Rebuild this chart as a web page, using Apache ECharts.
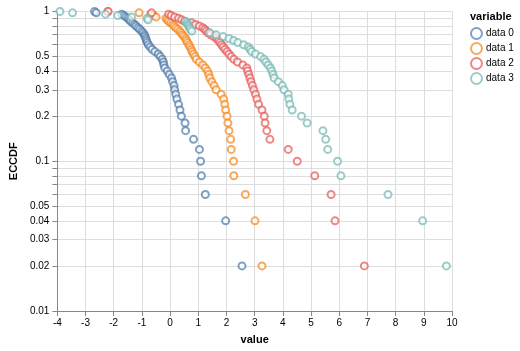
<!DOCTYPE html>
<html>
<head>
<meta charset="utf-8">
<script src="https://cdn.jsdelivr.net/npm/echarts@6/dist/echarts.min.js"></script>
<style>
  html, body { margin: 0; padding: 0; background: #fff; }
  #chart { width: 520px; height: 351px; }
</style>
</head>
<body>
<div id="chart"></div>
<script>
// sorted values per variable
const data0 = [-2.68, -2.62, -1.72, -1.64, -1.57, -1.50, -1.45, -1.40, -1.33, -1.26,
  -1.21, -1.14, -1.08, -1.01, -0.96, -0.91, -0.89, -0.86, -0.84, -0.81,
  -0.77, -0.71, -0.64, -0.54, -0.42, -0.35, -0.28, -0.24, -0.22, -0.19,
  -0.10, -0.03, 0.05, 0.09, 0.14, 0.16, 0.20, 0.24, 0.30, 0.35,
  0.40, 0.53, 0.55, 0.83, 1.04, 1.08, 1.11, 1.25, 1.97, 2.55]
const data1 = [-2.21, -1.10, -0.69, -0.58, -0.50, -0.15, -0.10, -0.05, 0.02, 0.09,
  0.14, 0.20, 0.27, 0.34, 0.39, 0.44, 0.49, 0.55, 0.58, 0.62,
  0.67, 0.70, 0.75, 0.78, 0.83, 0.88, 0.93, 1.04, 1.16, 1.25,
  1.33, 1.37, 1.41, 1.48, 1.56, 1.63, 1.81, 1.90, 1.94, 1.97,
  2.02, 2.05, 2.09, 2.15, 2.17, 2.25, 2.26, 2.67, 3.01, 3.26]
const data2 = [-2.20, -0.66, -0.05, 0.04, 0.16, 0.30, 0.41, 0.51, 0.77, 0.90,
  1.04, 1.16, 1.23, 1.28, 1.35, 1.44, 1.55, 1.65, 1.72, 1.77,
  1.83, 1.88, 1.95, 2.02, 2.09, 2.17, 2.26, 2.39, 2.58, 2.72,
  2.75, 2.79, 2.83, 2.87, 2.92, 2.97, 3.03, 3.08, 3.14, 3.26,
  3.34, 3.37, 3.43, 3.54, 4.19, 4.51, 5.13, 5.71, 5.85, 6.89]
const data3 = [-3.91, -3.46, -2.29, -1.86, -1.37, -0.82, -0.78, 0.55, 0.60, 0.63,
  0.66, 0.69, 0.72, 0.77, 1.41, 1.63, 1.88, 2.09, 2.25, 2.40,
  2.61, 2.77, 2.84, 2.89, 3.03, 3.21, 3.33, 3.40, 3.48, 3.56,
  3.61, 3.65, 3.69, 3.84, 3.98, 4.04, 4.19, 4.21, 4.25, 4.33,
  4.66, 4.86, 5.42, 5.52, 5.59, 5.94, 6.06, 7.73, 8.96, 9.80]

// ECCDF level for each sorted position
const eccdf = [1, 0.98, 0.96, 0.94, 0.92, 0.9, 0.88, 0.86, 0.84, 0.82,
  0.8, 0.78, 0.76, 0.74, 0.72, 0.7, 0.68, 0.66, 0.64, 0.62,
  0.6, 0.58, 0.56, 0.54, 0.52, 0.5, 0.48, 0.46, 0.44, 0.42,
  0.4, 0.38, 0.36, 0.34, 0.32, 0.3, 0.28, 0.26, 0.24, 0.22,
  0.2, 0.18, 0.16, 0.14, 0.12, 0.1, 0.08, 0.06, 0.04, 0.02]

const seriesNames = ['data 0', 'data 1', 'data 2', 'data 3']
const seriesValues = [data0, data1, data2, data3]
const colors = ['#4c78a8', '#f58518', '#e45756', '#72b7b2']

const yTicks = [0.01, 0.02, 0.03, 0.04, 0.05, 0.06, 0.07, 0.08, 0.09,
  0.1, 0.2, 0.3, 0.4, 0.5, 0.6, 0.7, 0.8, 0.9, 1]
const yLabels = [0.01, 0.02, 0.03, 0.04, 0.05, 0.1, 0.2, 0.3, 0.4, 0.5, 1]

const font = "'Liberation Sans', Arial, sans-serif"
const chart = echarts.init(document.getElementById('chart'))

const option = {
  animation: false,
  color: colors,
  textStyle: { fontFamily: font },
  title: {
    text: 'variable',
    left: 465,
    top: 6,
    textStyle: { fontSize: 11, fontWeight: 'bold', color: '#000', fontFamily: font }
  },
  legend: {
    orient: 'vertical',
    left: 465,
    top: 22,
    itemWidth: 11,
    itemHeight: 11,
    itemGap: 2,
    icon: 'emptyCircle',
    data: seriesNames,
    textStyle: { fontSize: 10, color: '#000', lineHeight: 11, padding: [0, 0, 0, -1] },
    itemStyle: { borderWidth: 2 }
  },
  grid: { left: 53, right: 68, top: 11.5, bottom: 40 },
  xAxis: {
    type: 'value',
    min: -4,
    max: 10,
    interval: 1,
    name: 'value',
    nameLocation: 'middle',
    nameGap: 23,
    nameTextStyle: { fontSize: 11, fontWeight: 'bold', color: '#000' },
    axisLine: { onZero: false, lineStyle: { color: '#888' } },
    axisTick: { length: 5, lineStyle: { color: '#888' } },
    axisLabel: { fontSize: 10, color: '#000', margin: 7 },
    splitLine: { lineStyle: { color: '#ddd' } }
  },
  yAxis: {
    type: 'log',
    logBase: 10,
    min: 0.01,
    max: 1,
    name: 'ECCDF',
    nameLocation: 'middle',
    nameRotate: 90,
    nameGap: 33,
    nameTextStyle: { fontSize: 11, fontWeight: 'bold', color: '#000' },
    axisLine: { show: true, onZero: false, lineStyle: { color: '#888' } },
    axisTick: { show: true, length: 5, lineStyle: { color: '#888' }, customValues: yTicks },
    axisLabel: { fontSize: 10, color: '#000', margin: 8, customValues: yLabels },
    splitLine: { show: true, lineStyle: { color: '#ddd' } }
  },
  series: seriesNames.map((name, i) => ({
    name: name,
    type: 'scatter',
    symbol: 'emptyCircle',
    symbolSize: 7,
    clip: false,
    itemStyle: { color: colors[i], borderColor: colors[i], borderWidth: 2, opacity: 0.7 },
    data: seriesValues[i].map((v, j) => [v, eccdf[j]])
  }))
}

chart.setOption(option)
</script>
</body>
</html>
